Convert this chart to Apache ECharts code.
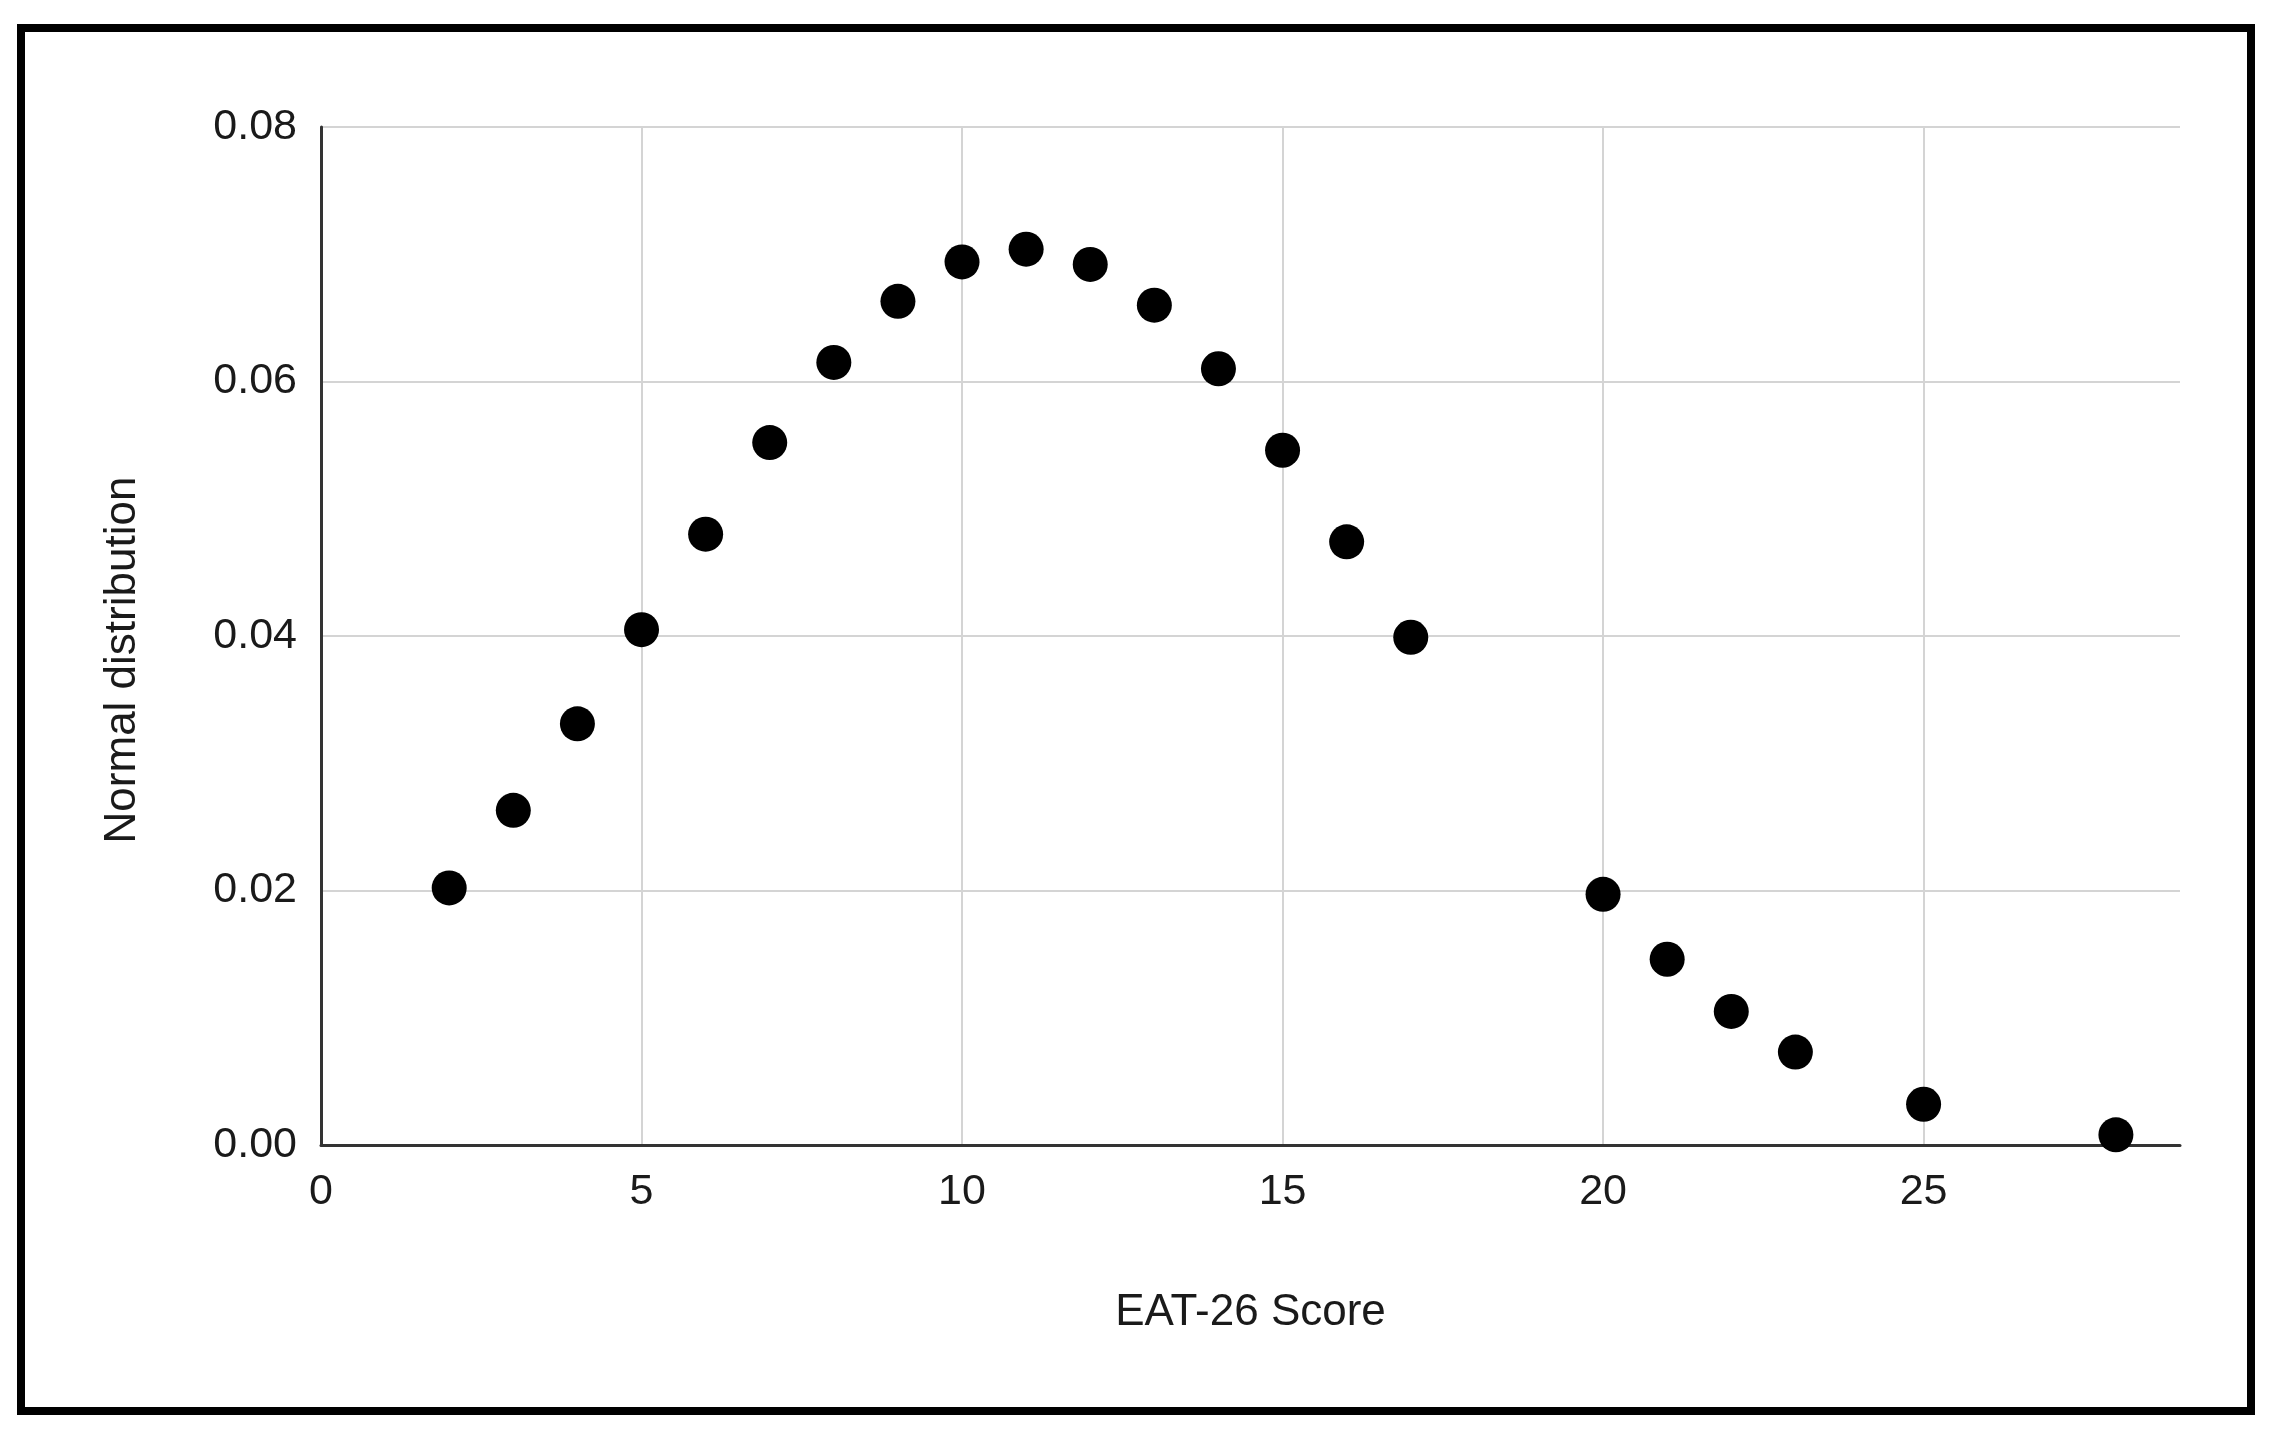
<!DOCTYPE html>
<html>
<head>
<meta charset="utf-8">
<script src="https://cdn.jsdelivr.net/npm/echarts@6/dist/echarts.min.js"></script>
<style>
    html, body { margin: 0; padding: 0; background: #fff; }
    #main { width: 2280px; height: 1440px; }
</style>
</head>
<body>
<div id="main"></div>
<script>
// EAT-26 score vs normal distribution density
var scores = [2, 3, 4, 5, 6, 7, 8, 9, 10, 11, 12, 13, 14, 15, 16, 17, 20, 21, 22, 23, 25, 28];
var density = [0.0202, 0.0263, 0.0331, 0.0405, 0.0480, 0.0552, 0.0615, 0.0663, 0.0694, 0.0704, 0.0692,
    0.0660, 0.0610, 0.0546, 0.0474, 0.0399, 0.0197, 0.0146, 0.0105, 0.0073, 0.0032, 0.0008];
var xTicks = [0, 5, 10, 15, 20, 25];
var yTicks = [0, 0.02, 0.04, 0.06, 0.08];

var font = '"Liberation Sans", Arial, sans-serif';

function drawScatter() {
    var myChart = echarts.init(document.getElementById('main'));
    var pts = [];
    for (var i = 0; i < scores.length; i++) {
        pts.push([scores[i], density[i]]);
    }
    var option = {
        backgroundColor: '#fff',
        animation: false,
        graphic: [{
            type: 'rect',
            shape: { x: 21, y: 28, width: 2230, height: 1383 },
            style: { fill: 'none', stroke: '#000', lineWidth: 8 },
            z: 100
        }],
        grid: {
            left: 321,
            right: 100,
            top: 127,
            bottom: 295,
            outerBoundsMode: 'none'
        },
        xAxis: {
            type: 'value',
            min: xTicks[0],
            max: 29,
            interval: xTicks[1] - xTicks[0],
            name: 'EAT-26 Score',
            nameLocation: 'middle',
            nameGap: 146,
            nameTextStyle: { fontFamily: font, fontSize: 44, color: '#1a1a1a' },
            axisLine: { show: true, onZero: false, lineStyle: { color: '#333', width: 3 } },
            axisTick: { show: false },
            axisLabel: {
                fontFamily: font, fontSize: 43, color: '#1a1a1a', margin: 26,
                showMaxLabel: false
            },
            splitLine: {
                show: true, showMaxLine: false, showMinLine: false,
                lineStyle: { color: '#d4d4d4', width: 2 }
            }
        },
        yAxis: {
            type: 'value',
            min: yTicks[0],
            max: yTicks[yTicks.length - 1],
            interval: yTicks[1] - yTicks[0],
            name: 'Normal distribution',
            nameLocation: 'middle',
            nameGap: 176,
            nameTextStyle: { fontFamily: font, fontSize: 44, color: '#1a1a1a', padding: [0, 48, 0, 0] },
            axisLine: { show: true, lineStyle: { color: '#333', width: 3 } },
            axisTick: { show: false },
            axisLabel: {
                fontFamily: font, fontSize: 43, color: '#1a1a1a', margin: 24,
                formatter: function (v) { return v.toFixed(2); }
            },
            splitLine: {
                show: true, showMinLine: false,
                lineStyle: { color: '#d4d4d4', width: 2 }
            }
        },
        series: [{
            type: 'scatter',
            data: pts,
            symbol: 'circle',
            symbolSize: 35,
            itemStyle: { color: '#000', opacity: 1 },
            z: 5
        }]
    };
    myChart.setOption(option);
}

drawScatter();
</script>
</body>
</html>
